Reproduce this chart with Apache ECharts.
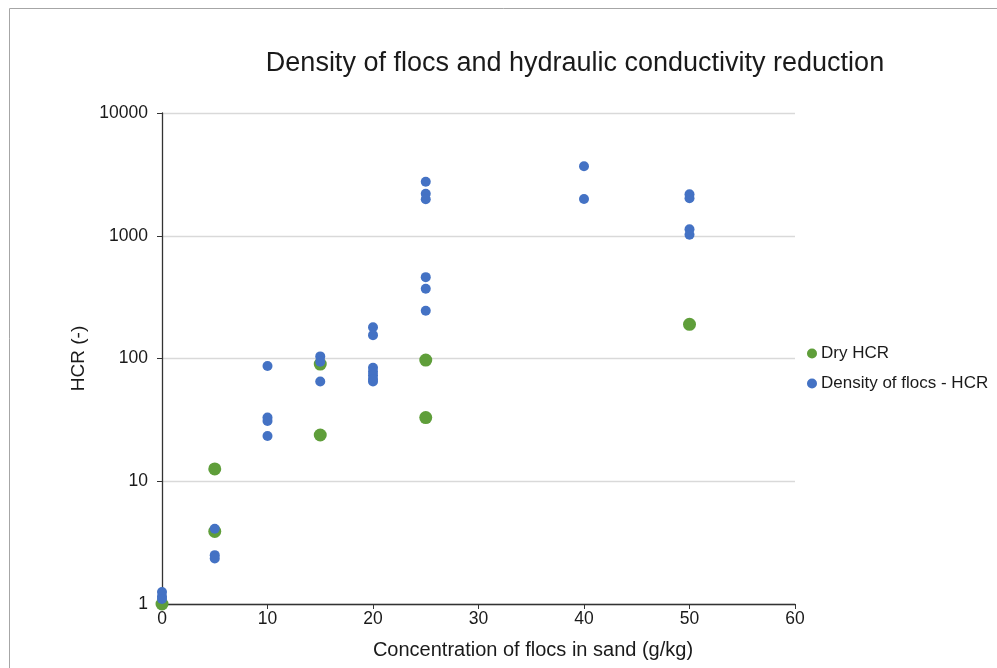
<!DOCTYPE html>
<html>
<head>
<meta charset="utf-8">
<script src="https://cdn.jsdelivr.net/npm/echarts@6/dist/echarts.min.js"></script>
<style>
html,body{margin:0;padding:0;background:#fff;}
#c{width:997px;height:668px;}
</style>
</head>
<body>
<div id="c"></div>
<script>
var titleText = 'Density of flocs and hydraulic conductivity reduction';
var xAxisName = 'Concentration of flocs in sand (g/kg)';
var yAxisName = 'HCR (-)';
var seriesNames = ['Dry HCR', 'Density of flocs - HCR'];

var dryX = [0, 5, 5, 15, 15, 25, 25, 50];
var dryY = [1, 12.6, 3.9, 90, 23.8, 97, 33, 190];

var densX = [0, 0, 0, 5, 5, 5, 10, 10, 10, 10, 15, 15, 15,
             20, 20, 20, 20, 20, 20, 20,
             25, 25, 25, 25, 25, 25, 40, 40, 50, 50, 50, 50];
var densY = [1.25, 1.15, 1.1, 4.1, 2.5, 2.35, 87, 33, 31, 23.4, 104, 94, 65,
             180, 155, 84, 78, 73, 68, 65,
             2750, 2200, 1980, 460, 370, 245, 3680, 1990, 2180, 2020, 1130, 1020];

function pairs(xs, ys) { return xs.map(function (x, i) { return [x, ys[i]]; }); }

var chart = echarts.init(document.getElementById('c'));
var font = 'Liberation Sans, Arial, sans-serif';
chart.setOption({
  backgroundColor: '#ffffff',
  animation: false,
  title: {
    text: titleText,
    left: 570, top: 45, textAlign: 'center',
    textStyle: {fontFamily: font, fontSize: 27, fontWeight: 'normal', color: '#1a1a1a'}
  },
  graphic: [{
    type: 'rect', silent: true,
    shape: {x: 9.5, y: 8.5, width: 1000, height: 700},
    style: {fill: 'none', stroke: '#a6a6a6', lineWidth: 1}
  }],
  legend: {
    orient: 'vertical', left: 802, top: 340, itemGap: 13,
    itemWidth: 10, itemHeight: 10, icon: 'circle',
    textStyle: {fontFamily: font, fontSize: 17, color: '#1a1a1a', padding: [0,0,0,-1]},
    data: seriesNames
  },
  grid: {left: 162, top: 113, width: 633, height: 491, containLabel: false},
  xAxis: {
    type: 'value', min: 0, max: 60, interval: 10,
    name: xAxisName, nameLocation: 'middle', nameGap: 36,
    nameTextStyle: {fontFamily: font, fontSize: 20, color: '#1a1a1a', padding: [0,0,0,109]},
    axisLine: {show: true, onZero: false, lineStyle: {color: '#333333', width: 1.3}},
    axisTick: {show: true, inside: false, length: 5, lineStyle: {color: '#333333'}},
    axisLabel: {fontFamily: font, fontSize: 17.5, color: '#1a1a1a', margin: 6},
    splitLine: {show: false}
  },
  yAxis: {
    type: 'log', logBase: 10, min: 1, max: 10000,
    name: yAxisName, nameLocation: 'middle', nameGap: 72, nameRotate: 90,
    nameTextStyle: {fontFamily: font, fontSize: 19, color: '#1a1a1a'},
    axisLine: {show: true, lineStyle: {color: '#333333', width: 1.3}},
    axisTick: {show: true, inside: false, length: 5, lineStyle: {color: '#333333'}},
    axisLabel: {fontFamily: font, fontSize: 17.5, color: '#1a1a1a', margin: 14,
      formatter: function (v) { return String(Math.round(v)); }},
    splitLine: {show: true, lineStyle: {color: '#d9d9d9', width: 1.3}},
    minorTick: {show: false}
  },
  series: [
    {
      name: seriesNames[0], type: 'scatter', symbol: 'circle', symbolSize: 13,
      itemStyle: {color: '#5F9E3A', opacity: 1},
      data: pairs(dryX, dryY)
    },
    {
      name: seriesNames[1], type: 'scatter', symbol: 'circle', symbolSize: 10,
      itemStyle: {color: '#4472C4', opacity: 1},
      data: pairs(densX, densY)
    }
  ]
});
</script>
</body>
</html>
